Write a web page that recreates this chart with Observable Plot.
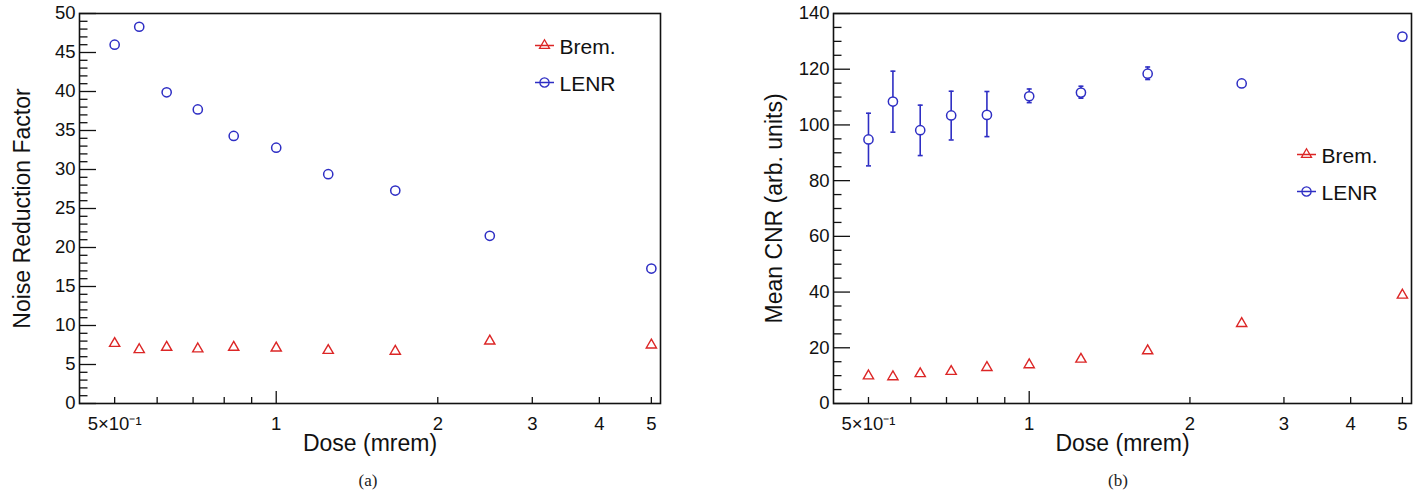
<!DOCTYPE html>
<html>
<head>
<meta charset="utf-8">
<script src="https://cdn.jsdelivr.net/npm/d3@7"></script>
<script src="https://cdn.jsdelivr.net/npm/@observablehq/plot@0.6"></script>
<style>
  html, body { margin: 0; padding: 0; background: #fff; }
  #wrap { position: relative; width: 1419px; height: 493px; overflow: hidden; }
  .panel { position: absolute; top: 0; }
  .cap { position: absolute; top: 471px; width: 80px; text-align: center; line-height: 20px;
         font-family: "Liberation Serif", "DejaVu Serif", serif; font-size: 17px; color: #222; }
</style>
</head>
<body>
<div id="wrap">
  <div id="pa" class="panel" style="left:0px"></div>
  <div id="pb" class="panel" style="left:720px"></div>
  <div class="cap" style="left:328px">(a)</div>
  <div class="cap" style="left:1078px">(b)</div>
</div>
<script>
// ---------- data ----------
const doses = [0.5, 0.5556, 0.625, 0.7143, 0.8333, 1, 1.25, 1.6667, 2.5, 5];
const seriesNames = ["Brem.", "LENR"];
const bremNRF = [7.7, 6.9, 7.2, 7.0, 7.2, 7.1, 6.8, 6.7, 8.0, 7.5];
const lenrNRF = [46.0, 48.3, 39.9, 37.7, 34.3, 32.8, 29.4, 27.3, 21.5, 17.3];
const bremCNR = [9.9, 9.6, 10.7, 11.5, 12.9, 13.9, 15.9, 18.9, 28.7, 38.9];
const lenrCNR = [94.8, 108.4, 98.1, 103.4, 103.6, 110.3, 111.6, 118.4, 114.9, 131.7];
const lenrCNRLo = [85.3, 97.4, 89.0, 94.6, 95.8, 108.0, 109.6, 116.3, 114.0, 131.0];
const lenrCNRHi = [104.2, 119.3, 107.1, 112.1, 112.0, 112.9, 113.9, 120.8, 115.8, 132.4];

const xDomain = [0.43, 5.2];
const xTickVals = [0.5, 1, 2, 3, 4, 5];
const xTickLabels = ["5×10⁻¹", "1", "2", "3", "4", "5"];
const xMinorTicks = [0.5, 0.6, 0.7, 0.8, 0.9, 2, 3, 4, 5];
const xMajorTicks = [1];

const yTicksA = [0, 5, 10, 15, 20, 25, 30, 35, 40, 45, 50];
const yTicksB = [0, 20, 40, 60, 80, 100, 120, 140];

const titleA = "Noise Reduction Factor";
const titleB = "Mean CNR (arb. units)";
const xTitle = "Dose (mrem)";

// ---------- styles ----------
const BLUE = "#2e2ec4";
const RED = "#dc2626";
const FONT = "'Liberation Sans', Arial, Helvetica, sans-serif";

const lineCircle = { draw(ctx) { ctx.moveTo(-9.5, 0); ctx.lineTo(9.5, 0); ctx.moveTo(4.6, 0); ctx.arc(0, 0, 4.6, 0, 2 * Math.PI); } };
const lineTriangle = { draw(ctx) { ctx.moveTo(-9.5, 0); ctx.lineTo(9.5, 0); ctx.moveTo(0, -5.8); ctx.lineTo(5, 2.9); ctx.lineTo(-5, 2.9); ctx.closePath(); } };
const capSym = { draw(ctx) { ctx.moveTo(-2.5, 0); ctx.lineTo(2.5, 0); } };

const rowsA = doses.map((d, i) => ({dose: d, brem: bremNRF[i], lenr: lenrNRF[i]}));
const rowsB = doses.map((d, i) => ({dose: d, brem: bremCNR[i], lenr: lenrCNR[i], lo: lenrCNRLo[i], hi: lenrCNRHi[i]}));

function panel({width, marginLeft, marginRight, yDomain, yTicks, yMinorStep, rows, title, titleDx, legendDx, textDx, legendDy, errors}) {
  const height = 470, marginTop = 13, marginBottom = 67;
  const innerW = width - marginLeft - marginRight;
  const innerH = height - marginTop - marginBottom;
  const yMinor = d3.range(yDomain[0], yDomain[1] + 1e-9, yMinorStep).filter(v => !yTicks.includes(v));
  const marks = [
    // ticks (ROOT-style, drawn inward)
    Plot.tickY(yTicks, {y: d => d, insetRight: innerW - 17, stroke: "#111", strokeWidth: 1.3}),
    Plot.tickY(yMinor, {y: d => d, insetRight: innerW - 8.5, stroke: "#111", strokeWidth: 1.3}),
    Plot.tickX(xMinorTicks, {x: d => d, insetTop: innerH - 6, stroke: "#111", strokeWidth: 1.3}),
    Plot.tickX(xMajorTicks, {x: d => d, insetTop: innerH - 12, stroke: "#111", strokeWidth: 1.3}),
    Plot.axisX({ticks: xTickVals, tickFormat: d => xTickLabels[xTickVals.indexOf(d)], tickSize: 0, tickPadding: 13, fontSize: 18.5, label: null, fill: "#111"}),
    Plot.axisY({ticks: yTicks, tickFormat: d => String(d), tickSize: 0, tickPadding: 4, fontSize: 18.5, label: null, fill: "#111"}),
    Plot.frame({stroke: "#111", strokeWidth: 1.6}),
    Plot.text([xTitle], {frameAnchor: "bottom", dy: 40, textAnchor: "middle", lineAnchor: "middle", fontSize: 23, fill: "#111"}),
    Plot.text([title], {frameAnchor: "left", dx: titleDx, rotate: -90, textAnchor: "middle", lineAnchor: "middle", fontSize: 23, fill: "#111"}),
  ];
  if (errors) {
    marks.push(Plot.ruleX(rows, {x: "dose", y1: "lo", y2: "hi", stroke: BLUE, strokeWidth: 1.6}));
    marks.push(Plot.dot(rows, {x: "dose", y: "lo", symbol: capSym, stroke: BLUE, strokeWidth: 1.6}));
    marks.push(Plot.dot(rows, {x: "dose", y: "hi", symbol: capSym, stroke: BLUE, strokeWidth: 1.6}));
  }
  marks.push(
    Plot.dot(rows, {x: "dose", y: "brem", symbol: "triangle", r: 3.8, stroke: RED, fill: "white", strokeWidth: 1.4}),
    Plot.dot(rows, {x: "dose", y: "lenr", symbol: "circle", r: 4.6, stroke: BLUE, fill: "white", strokeWidth: 1.5}),
    // legend
    Plot.dot([seriesNames[0]], {frameAnchor: "top-right", dx: legendDx, dy: legendDy, symbol: lineTriangle, stroke: RED, fill: "none", strokeWidth: 1.3}),
    Plot.dot([seriesNames[1]], {frameAnchor: "top-right", dx: legendDx, dy: legendDy + 37, symbol: lineCircle, stroke: BLUE, fill: "none", strokeWidth: 1.3}),
    Plot.text([seriesNames[0]], {frameAnchor: "top-right", dx: textDx, dy: legendDy + 1.5, textAnchor: "start", lineAnchor: "middle", fontSize: 21, fill: "#111"}),
    Plot.text([seriesNames[1]], {frameAnchor: "top-right", dx: textDx, dy: legendDy + 38.5, textAnchor: "start", lineAnchor: "middle", fontSize: 21, fill: "#111"})
  );
  return Plot.plot({
    width, height, marginLeft, marginRight, marginTop, marginBottom,
    style: {fontFamily: FONT, background: "white", overflow: "visible"},
    x: {type: "log", domain: xDomain},
    y: {domain: yDomain},
    marks
  });
}

document.getElementById("pa").append(panel({
  width: 700, marginLeft: 79, marginRight: 40,
  yDomain: [0, 50], yTicks: yTicksA, yMinorStep: 1,
  rows: rowsA, title: titleA, titleDx: -57,
  legendDx: -116, textDx: -101, legendDy: 32, errors: false
}));
document.getElementById("pb").append(panel({
  width: 699, marginLeft: 113, marginRight: 8,
  yDomain: [0, 140], yTicks: yTicksB, yMinorStep: 5,
  rows: rowsB, title: titleB, titleDx: -59,
  legendDx: -105, textDx: -90, legendDy: 141, errors: true
}));
</script>
</body>
</html>
